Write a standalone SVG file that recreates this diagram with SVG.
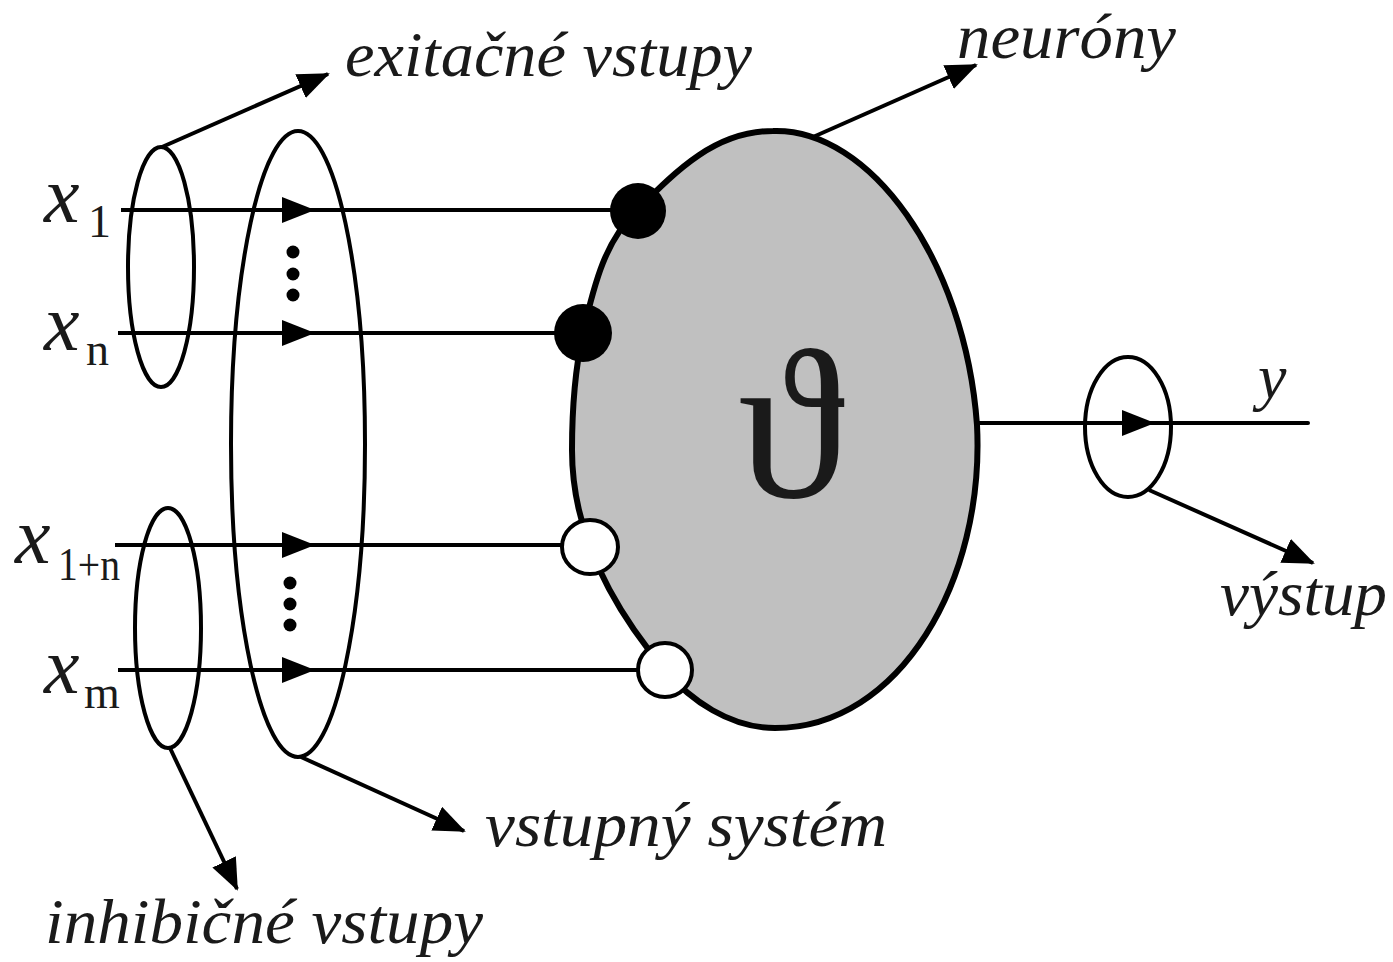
<svg xmlns="http://www.w3.org/2000/svg" xmlns:xlink="http://www.w3.org/1999/xlink" width="1393" height="962" viewBox="0 0 1393 962">
<style>
.ln{stroke:#000;stroke-width:4;fill:none}
.ring{stroke:#000;stroke-width:4;fill:none}
.lbl{font-family:"Liberation Serif","Times New Roman",serif;font-style:italic;font-size:64px;fill:#1a1a1a}
.xv{font-family:"Liberation Serif","Times New Roman",serif;font-style:italic;font-size:80px;fill:#1a1a1a}
.sub{font-family:"Liberation Serif","Times New Roman",serif;font-size:46px;fill:#1a1a1a}
.ptr{stroke:#000;stroke-width:4;fill:none;marker-end:url(#ah)}
</style>
<defs>
<marker id="ah" markerUnits="userSpaceOnUse" markerWidth="34" markerHeight="28" refX="30" refY="13" orient="auto">
<path d="M0,0 L32,13 L0,26 Z" fill="#000"/>
</marker>
<path id="tri" d="M-17,-13 L16,0 L-17,13 Z" fill="#000"/>
</defs>
<rect width="1393" height="962" fill="#fff"/>

<g id="neuron">
<path d="M773,131 C870,128 965,260 977,425 C985,580 900,728 775,728 C730,728 690,700 665,670 C610,605 572,530 572,450 C572,400 576,365 583,333 C595,280 606,241 636,211 C676,171 715,131 773,131 Z" fill="#c0c0c0" stroke="#000" stroke-width="6"/>
<text x="791" y="497" text-anchor="middle" font-family="'Liberation Serif','DejaVu Serif',serif" font-size="215" fill="#1a1a1a">ϑ</text>
</g>

<g id="input-system">
<ellipse cx="298" cy="444" rx="67" ry="313" class="ring"/>
</g>
<g id="excitatory-group">
<ellipse cx="161" cy="267" rx="33" ry="120" class="ring"/>
</g>
<g id="inhibitory-group">
<ellipse cx="168" cy="628" rx="33" ry="120" class="ring"/>
</g>
<g id="output-group">
<ellipse cx="1128" cy="427" rx="43" ry="70" class="ring"/>
</g>

<g id="connectors">
<line x1="121" y1="210" x2="615" y2="210" class="ln"/>
<line x1="118" y1="333" x2="560" y2="333" class="ln"/>
<line x1="115" y1="545" x2="565" y2="545" class="ln"/>
<line x1="118" y1="670" x2="640" y2="670" class="ln"/>
<use xlink:href="#tri" x="299" y="210"/>
<use xlink:href="#tri" x="299" y="333"/>
<use xlink:href="#tri" x="299" y="545"/>
<use xlink:href="#tri" x="299" y="670"/>
<line x1="977" y1="423" x2="1308" y2="423" class="ln" stroke-linecap="round"/>
<use xlink:href="#tri" x="1139" y="423"/>
<line x1="162" y1="147" x2="328" y2="74" class="ptr"/>
<line x1="813" y1="137" x2="976" y2="65" class="ptr"/>
<line x1="1149" y1="490" x2="1313" y2="563" class="ptr"/>
<line x1="301" y1="757" x2="464" y2="831" class="ptr"/>
<line x1="170" y1="748" x2="237" y2="889" class="ptr"/>
</g>

<g id="synapses">
<circle cx="638" cy="211" r="28" fill="#000"/>
<circle cx="583" cy="333" r="29" fill="#000"/>
<ellipse cx="590" cy="547" rx="28" ry="27" fill="#fff" stroke="#000" stroke-width="4"/>
<ellipse cx="665" cy="670" rx="27" ry="27" fill="#fff" stroke="#000" stroke-width="4"/>
</g>

<g id="dots" fill="#000">
<circle cx="293" cy="252" r="6.5"/>
<circle cx="293" cy="274" r="6.5"/>
<circle cx="293" cy="295" r="6.5"/>
<circle cx="290" cy="583" r="6.5"/>
<circle cx="290" cy="604" r="6.5"/>
<circle cx="290" cy="625" r="6.5"/>
</g>

<g id="input-labels">
<text x="44" y="222" class="xv">x</text><text x="88" y="237" class="sub">1</text>
<text x="44" y="350" class="xv">x</text><text x="86" y="365" class="sub">n</text>
<text x="15" y="563" class="xv">x</text><text x="58" y="580" class="sub" textLength="62" lengthAdjust="spacingAndGlyphs">1+n</text>
<text x="44" y="693" class="xv">x</text><text x="84" y="708" class="sub">m</text>
<text x="1258" y="398" class="lbl" font-size="70">y</text>
</g>

<g id="labels">
<text x="345" y="76" class="lbl" textLength="407" lengthAdjust="spacingAndGlyphs">exitačné vstupy</text>
<text x="957" y="58" class="lbl" textLength="219" lengthAdjust="spacingAndGlyphs">neuróny</text>
<text x="485" y="846" class="lbl" textLength="402" lengthAdjust="spacingAndGlyphs">vstupný systém</text>
<text x="45" y="943" class="lbl" textLength="438" lengthAdjust="spacingAndGlyphs">inhibičné vstupy</text>
<text x="1220" y="615" class="lbl" textLength="167" lengthAdjust="spacingAndGlyphs">výstup</text>
</g>
</svg>
